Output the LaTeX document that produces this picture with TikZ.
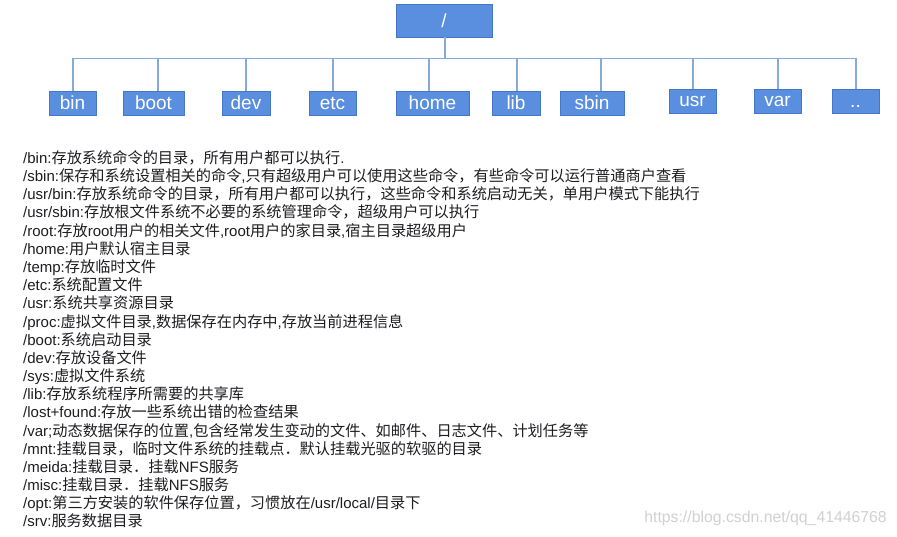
\documentclass[tikz,border=0pt]{standalone}
\usepackage{fontspec}
\setmainfont{Liberation Sans}
\newfontfamily\cjk{Noto Sans CJK SC}
\newcommand{\la}[1]{{\fontsize{15}{18}\selectfont\rmfamily #1}}
\definecolor{boxfill}{HTML}{5A8FE0}
\definecolor{boxdraw}{HTML}{4577C6}
\definecolor{linec}{HTML}{86AAE0}
\definecolor{txt}{HTML}{1E1E22}
\tikzset{
  dirbox/.style={draw=boxdraw, fill=boxfill, text=white, line width=0.8pt, inner sep=0pt,
    minimum height=24pt, font=\fontsize{19}{22}\selectfont},
  conn/.style={draw=linec, line width=1.1pt},
  desc/.style={anchor=base west, inner sep=0pt, text=txt, font=\cjk\fontsize{15.2}{18}\selectfont},
}
\begin{document}
\begin{tikzpicture}[x=1pt,y=-1pt]
\useasboundingbox[fill=white] (0,0) rectangle (897,537);
% root
\node[dirbox, minimum width=96pt, minimum height=33pt] (root) at (444,20.5) {/};
\coordinate (busL) at (72,58.5);
\coordinate (busR) at (856,58.5);
\coordinate (busM) at (445,58.5);
% children
\node[dirbox, minimum width=47pt] (bin)  at (72.5,103) {bin};
\node[dirbox, minimum width=61pt] (boot) at (153.5,103) {boot};
\node[dirbox, minimum width=48pt] (dev)  at (246,103) {dev};
\node[dirbox, minimum width=47pt] (etc)  at (332.5,103) {etc};
\node[dirbox, minimum width=73pt] (home) at (432.5,103) {home};
\node[dirbox, minimum width=48pt] (lib)  at (516,103) {lib};
\node[dirbox, minimum width=64pt] (sbin) at (592,103) {sbin};
\node[dirbox, minimum width=47pt] (usr)  at (692.5,101) {usr};
\node[dirbox, minimum width=47pt] (var)  at (777.5,101) {var};
\node[dirbox, minimum width=47pt] (dots) at (855.5,101) {\vphantom{b}..};
% connectors
\draw[conn] ([xshift=1pt]root.south) -- (busM);
\draw[conn] (busL) -- (busR);
\foreach \n/\dx in {bin/0.5, boot/4.5, dev/0, etc/0.5, home/-3.5, lib/1, sbin/9, usr/0.5, var/0.5, dots/0.5}{
  \draw[conn] ([xshift=\dx pt]\n.north) -- ([xshift=\dx pt]\n.north |- busL);
}
% descriptions
\node[desc] (t1)  at (23,163.5) {\la{/bin:}存放系统命令的目录，所有用户都可以执行\la{.}};
\node[desc] (t2)  at (23,181.7) {\la{/sbin:}保存和系统设置相关的命令\la{,}只有超级用户可以使用这些命令，有些命令可以运行普通商户查看};
\node[desc] (t3)  at (23,199.8) {\la{/usr/bin:}存放系统命令的目录，所有用户都可以执行，这些命令和系统启动无关，单用户模式下能执行};
\node[desc] (t4)  at (23,218.0) {\la{/usr/sbin:}存放根文件系统不必要的系统管理命令，超级用户可以执行};
\node[desc] (t5)  at (23,236.2) {\la{/root:}存放\la{root}用户的相关文件\la{,root}用户的家目录\la{,}宿主目录超级用户};
\node[desc] (t6)  at (23,254.3) {\la{/home:}用户默认宿主目录};
\node[desc] (t7)  at (23,272.5) {\la{/temp:}存放临时文件};
\node[desc] (t8)  at (23,290.7) {\la{/etc:}系统配置文件};
\node[desc] (t9)  at (23,308.9) {\la{/usr:}系统共享资源目录};
\node[desc] (t10) at (23,327.0) {\la{/proc:}虚拟文件目录\la{,}数据保存在内存中\la{,}存放当前进程信息};
\node[desc] (t11) at (23,345.2) {\la{/boot:}系统启动目录};
\node[desc] (t12) at (23,363.4) {\la{/dev:}存放设备文件};
\node[desc] (t13) at (23,381.5) {\la{/sys:}虚拟文件系统};
\node[desc] (t14) at (23,399.7) {\la{/lib:}存放系统程序所需要的共享库};
\node[desc] (t15) at (23,417.9) {\la{/lost+found:}存放一些系统出错的检查结果};
\node[desc] (t16) at (23,436.0) {\la{/var;}动态数据保存的位置\la{,}包含经常发生变动的文件、如邮件、日志文件、计划任务等};
\node[desc] (t17) at (23,454.2) {\la{/mnt:}挂载目录，临时文件系统的挂载点．默认挂载光驱的软驱的目录};
\node[desc] (t18) at (23,472.4) {\la{/meida:}挂载目录．挂载\la{NFS}服务};
\node[desc] (t19) at (23,490.6) {\la{/misc:}挂载目录．挂载\la{NFS}服务};
\node[desc] (t20) at (23,508.7) {\la{/opt:}第三方安装的软件保存位置，习惯放在\la{/usr/local/}目录下};
\node[desc] (t21) at (23,526.9) {\la{/srv:}服务数据目录};
% watermark
\node[anchor=east, inner sep=0pt, text=black!18, font=\fontsize{15.8}{18}\selectfont] (wm) at (887,518) {https://blog.csdn.net/qq\_41446768};
\end{tikzpicture}
\end{document}
